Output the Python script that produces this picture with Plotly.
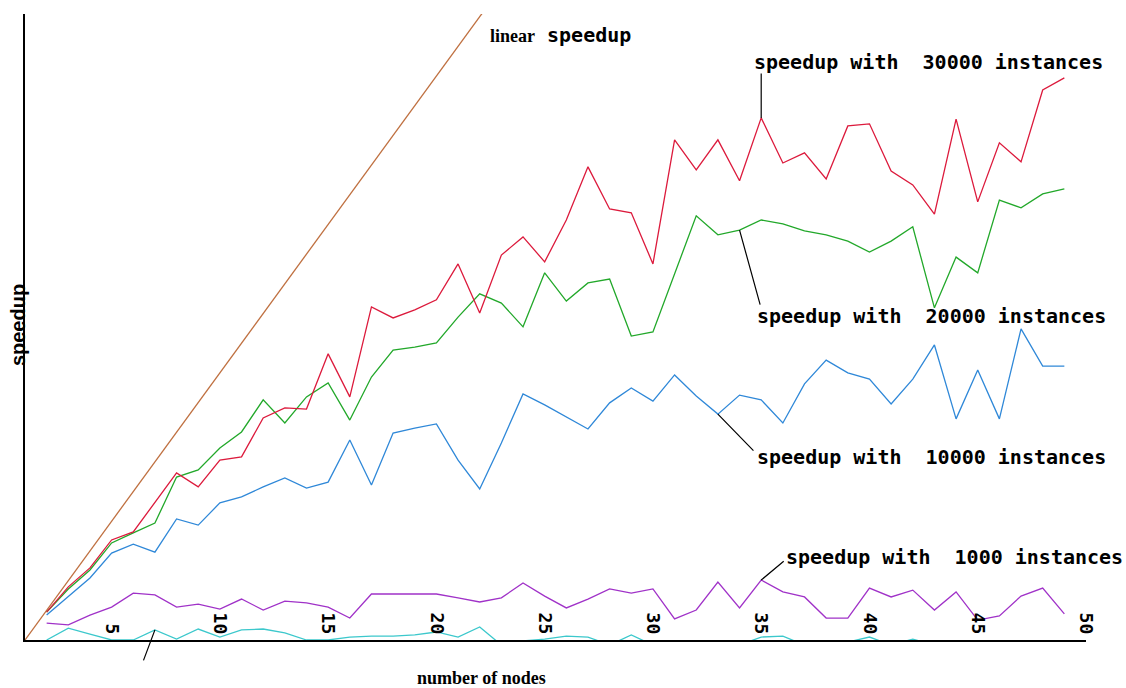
import plotly.graph_objects as go

# number of nodes used for every measured series
nodes = [2, 3, 4, 5, 6, 7, 8, 9, 10, 11, 12, 13, 14, 15, 16, 17, 18, 19, 20, 21,
         22, 23, 24, 25, 26, 27, 28, 29, 30, 31, 32, 33, 34, 35, 36, 37, 38, 39,
         40, 41, 42, 43, 44, 45, 46, 47, 48, 49]

speedup_30000 = [1.94, 2.79, 3.43, 4.37, 4.64, 5.62, 6.63, 6.16, 7.06, 7.17, 8.48, 8.82,
                 8.78, 10.64, 9.19, 12.22, 11.85, 12.12, 12.46, 13.67, 12.02, 13.97,
                 14.58, 13.74, 15.15, 16.94, 15.52, 15.39, 13.67, 17.85, 16.84, 17.85,
                 16.47, 18.59, 17.07, 17.41, 16.53, 18.32, 18.39, 16.80, 16.33, 15.35,
                 18.55, 15.76, 17.75, 17.11, 19.53, 19.94]

speedup_20000 = [1.94, 2.72, 3.36, 4.27, 4.61, 4.94, 6.49, 6.73, 7.47, 8.01, 9.09, 8.31,
                 9.19, 9.66, 8.41, 9.86, 10.77, 10.87, 11.01, 11.88, 12.66, 12.35,
                 11.55, 13.37, 12.42, 13.03, 13.16, 11.24, 11.38, 13.33, 15.29, 14.65,
                 14.81, 15.15, 15.02, 14.78, 14.65, 14.44, 14.07, 14.44, 14.92, 12.19,
                 13.90, 13.37, 15.82, 15.56, 16.03, 16.20]

speedup_10000 = [1.84, 2.45, 3.09, 3.93, 4.23, 3.96, 5.08, 4.87, 5.62, 5.82, 6.16, 6.46,
                 6.12, 6.32, 7.74, 6.22, 7.97, 8.14, 8.28, 7.06, 6.09, 7.64, 9.29, 8.92,
                 8.51, 8.11, 8.99, 9.49, 9.05, 9.93, 9.22, 8.61, 9.25, 9.09, 8.31, 9.63,
                 10.43, 10.00, 9.79, 8.95, 9.79, 10.94, 8.45, 10.10, 8.45, 11.48, 10.23,
                 10.23]

speedup_1000 = [1.57, 1.51, 1.84, 2.11, 2.58, 2.52, 2.11, 2.21, 2.04, 2.38, 2.01, 2.31,
                2.25, 2.11, 1.74, 2.55, 2.55, 2.55, 2.55, 2.42, 2.28, 2.42, 2.92, 2.48,
                2.08, 2.38, 2.72, 2.58, 2.72, 1.71, 2.01, 2.95, 2.08, 3.02, 2.62, 2.45,
                1.74, 1.74, 2.75, 2.45, 2.68, 2.01, 2.62, 1.67, 1.81, 2.48, 2.75, 1.88]

speedup_lowest = [1.00, 1.40, 1.20, 1.00, 1.00, 1.34, 1.03, 1.37, 1.10, 1.34, 1.37, 1.24,
                  1.00, 1.00, 1.10, 1.13, 1.13, 1.17, 1.27, 1.10, 1.44, 0.83, 0.97, 1.03,
                  1.13, 1.10, 0.83, 1.17, 0.83, 0.83, 0.83, 0.83, 0.83, 1.10, 1.13, 0.83,
                  0.83, 0.93, 1.10, 0.83, 1.03, 0.83, 0.83, 0.83, 0.83, 0.83, 0.83, 0.83]

# ideal speedup: equal to the number of nodes
linear_nodes = [1, 23]
linear_speedup = [1, 23]

tick_values = [5, 10, 15, 20, 25, 30, 35, 40, 45, 50]
tick_labels = ["5", "10", "15", "20", "25", "30", "35", "40", "45", "50"]

X_RANGE = [1, 50]
Y_RANGE = [1, 22.09]

MONO = "DejaVu Sans Mono"
LINE_W = 1.3

fig = go.Figure()

fig.add_trace(go.Scatter(x=linear_nodes, y=linear_speedup, mode="lines",
                         line=dict(color="#bf7040", width=LINE_W)))
fig.add_trace(go.Scatter(x=nodes, y=speedup_lowest, mode="lines",
                         line=dict(color="#3cc8cc", width=LINE_W)))
fig.add_trace(go.Scatter(x=nodes, y=speedup_1000, mode="lines",
                         line=dict(color="#a032c8", width=LINE_W)))
fig.add_trace(go.Scatter(x=nodes, y=speedup_10000, mode="lines",
                         line=dict(color="#2f88d8", width=LINE_W)))
fig.add_trace(go.Scatter(x=nodes, y=speedup_20000, mode="lines",
                         line=dict(color="#22a82a", width=LINE_W)))
fig.add_trace(go.Scatter(x=nodes, y=speedup_30000, mode="lines",
                         line=dict(color="#dc1a3c", width=LINE_W)))


def idx(n):
    return nodes.index(n)


label_font = dict(family=MONO, size=20, color="black", weight="bold")


def leader(n, series, ax, ay):
    # thin black pointer line from a data point out towards its label
    fig.add_annotation(x=n, y=series[idx(n)], xref="x", yref="y", text="",
                       showarrow=True, arrowhead=0, arrowwidth=1.2, arrowcolor="black",
                       ax=ax, ay=ay, standoff=0, startstandoff=0)


def label(n, series, text, xshift, yshift):
    fig.add_annotation(x=n, y=series[idx(n)], xref="x", yref="y", text=text,
                       showarrow=False, xanchor="left", yanchor="middle",
                       xshift=xshift, yshift=yshift, font=label_font)


leader(35, speedup_30000, 0, -46)
label(35, speedup_30000, "speedup with  30000 instances", -9, 56)

leader(34, speedup_20000, 21, 76)
label(34, speedup_20000, "speedup with  20000 instances", 15, -86)

leader(33, speedup_10000, 37, 38)
label(33, speedup_10000, "speedup with  10000 instances", 37, -43)

leader(35, speedup_1000, 24, -20)
label(35, speedup_1000, "speedup with  1000 instances", 23, 23)

leader(7, speedup_lowest, -12, 32)

# label next to the top of the ideal-speedup line
fig.add_annotation(x=22, y=22, xref="x", yref="y",
                   text="<span style='font-family:Liberation Serif;font-size:18px'>linear</span> speedup",
                   showarrow=False, xanchor="left", yanchor="middle",
                   xshift=8, yshift=-18, font=label_font)

# axis titles
fig.add_annotation(x=0.4307, y=0, xref="paper", yref="paper", text="number of nodes",
                   showarrow=False, xanchor="center", yanchor="middle", yshift=-38,
                   font=dict(family="Liberation Serif", size=18, color="black",
                             weight="bold"))
fig.add_annotation(x=0, y=0.503, xref="paper", yref="paper", text="speedup",
                   showarrow=False, xanchor="center", yanchor="middle", xshift=-7,
                   textangle=-90,
                   font=dict(family="Liberation Sans", size=20, color="black",
                             weight="bold"))

fig.update_xaxes(range=X_RANGE, showline=True, linecolor="black", linewidth=2,
                 showgrid=False, zeroline=False, ticks="",
                 tickvals=tick_values, ticktext=tick_labels, tickangle=90,
                 ticklabelposition="inside", ticklabeloverflow="allow",
                 tickfont=dict(family=MONO, size=18, color="black", weight="bold"))
fig.update_yaxes(range=Y_RANGE, showline=True, linecolor="black", linewidth=2,
                 showgrid=False, zeroline=False, ticks="", showticklabels=False)

fig.update_layout(width=1126, height=688, showlegend=False,
                  paper_bgcolor="white", plot_bgcolor="white",
                  margin=dict(l=25, r=40, t=14, b=48))

fig.write_html("out.html")
